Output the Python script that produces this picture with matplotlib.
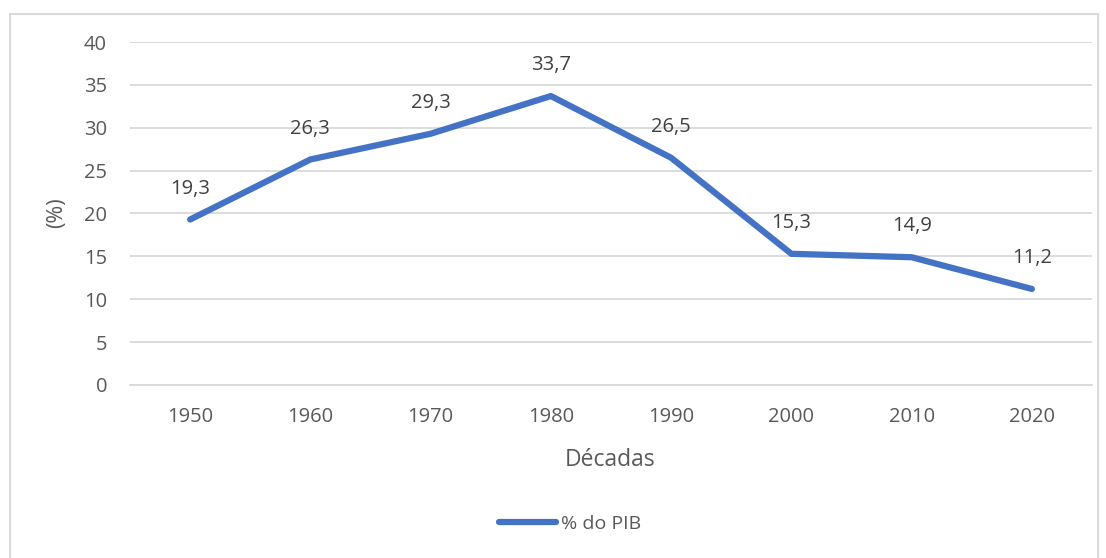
import matplotlib
matplotlib.use("Agg")
import matplotlib.pyplot as plt
from matplotlib.patches import Rectangle

decades = ["1950", "1960", "1970", "1980", "1990", "2000", "2010", "2020"]
values = [19.3, 26.3, 29.3, 33.7, 26.5, 15.3, 14.9, 11.2]
value_labels = ["19,3", "26,3", "29,3", "33,7", "26,5", "15,3", "14,9", "11,2"]
yticks = [0, 5, 10, 15, 20, 25, 30, 35, 40]

plt.rcParams['font.family'] = ['Open Sans', 'DejaVu Sans']
TXT = "#595959"
GRID = "#D9D9D9"
BLUE = "#4472C4"

W, H = 1106, 558
fig = plt.figure(figsize=(W / 100, H / 100), dpi=100)

# outer chart border
fig.patches.append(Rectangle((10 / W, -0.01), (1098 - 10) / W, 1 - 14 / H + 0.01,
                             transform=fig.transFigure, fill=False,
                             edgecolor=GRID, linewidth=1.5))

left, right, top, bottom = 130, 1092, 42, 385
ax = fig.add_axes([left / W, 1 - bottom / H, (right - left) / W, (bottom - top) / H])

x = list(range(len(decades)))
ax.plot(x, values, color=BLUE, linewidth=4.5, solid_capstyle='round',
        solid_joinstyle='round', label="% do PIB", zorder=3)
for xi, v, lab in zip(x, values, value_labels):
    ax.annotate(lab, (xi, v), xytext=(0, 15), textcoords='offset points',
                ha='center', va='bottom', fontsize=14.5, color="#404040")

ax.set_xlim(-0.5, len(decades) - 0.5)
ax.set_ylim(0, 40)
ax.set_yticks(yticks)
ax.set_yticklabels([str(t) for t in yticks])
ax.set_xticks(x)
ax.set_xticklabels(decades)
ax.tick_params(axis='both', length=0, labelsize=14.5, colors=TXT)
ax.tick_params(axis='y', pad=16.5)
ax.tick_params(axis='x', pad=16)
ax.grid(axis='y', color=GRID, linewidth=1.3)
ax.set_axisbelow(True)
for s in ['top', 'right', 'left']:
    ax.spines[s].set_visible(False)
ax.spines['bottom'].set_color(GRID)
ax.spines['bottom'].set_linewidth(1.3)

fig.text(57 / W, 1 - 213 / H, "(%)", rotation=90, ha='center', va='center',
         fontsize=15.5, color=TXT)
fig.text(610 / W, 1 - 460 / H, "Décadas", ha='center', va='center',
         fontsize=16.5, color=TXT)

leg = fig.legend(loc='center', bbox_to_anchor=(570 / W, 1 - 524 / H), frameon=False,
                 fontsize=14, handlelength=2.9, handletextpad=0.25)
for t in leg.get_texts():
    t.set_color(TXT)

fig.savefig("out.png", dpi=100)
